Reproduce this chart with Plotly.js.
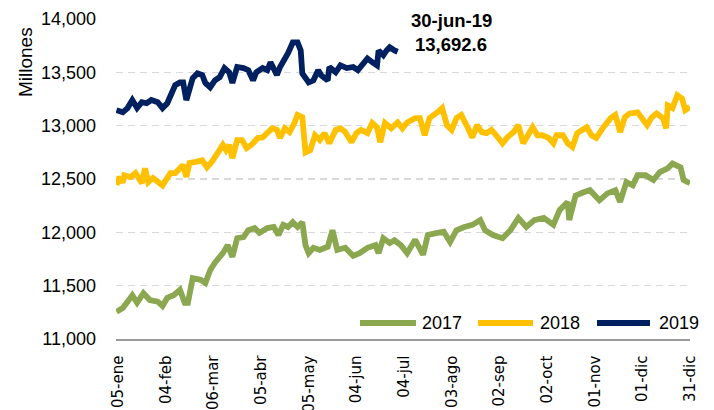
<!DOCTYPE html>
<html>
<head>
<meta charset="utf-8">
<script src="https://cdn.plot.ly/plotly-3.0.1.min.js"></script>
<style>html,body{margin:0;padding:0;background:#fff;}#chart{width:714px;height:410px;}</style>
</head>
<body>
<div id="chart"></div>
<script>
// Día del año (calendario de 365 días) y saldo en millones
const nombresSeries = ["2017", "2018", "2019"];
const colores = ["#8BA74F", "#FFC000", "#002060"];

const dias2017 = [4,8,11,14,17,21,25,30,33,36,40,44,47,49,52,57,60,63,66,69,71,74,77,80,84,87,91,94,99,103,106,109,112,115,118,121,123,125,128,132,137,140,143,148,153,157,162,167,169,172,176,179,183,187,192,197,200,206,210,214,218,223,228,233,236,241,247,252,257,262,267,273,279,283,288,289,293,298,302,308,313,318,321,325,329,332,337,342,346,351,354,359,361,365];
const valores2017 = [11255,11290,11350,11410,11340,11430,11365,11350,11310,11385,11410,11460,11340,11340,11570,11555,11525,11645,11715,11760,11805,11880,11770,11945,11955,12020,12040,11995,12040,12050,11975,12070,12050,12095,12050,12095,11880,11805,11855,11835,11865,12020,11835,11855,11780,11805,11855,11880,11805,11945,11900,11925,11880,11805,11930,11790,11975,11995,12005,11910,12020,12050,12070,12115,12020,11975,11945,12020,12135,12050,12115,12135,12070,12210,12285,12115,12345,12375,12395,12300,12365,12395,12285,12470,12440,12535,12535,12490,12565,12600,12645,12610,12490,12460];

const dias2018 = [4,6,8,9,13,16,18,20,22,24,27,30,33,36,38,41,44,46,48,50,54,58,61,64,68,71,73,75,77,80,83,86,89,93,96,99,102,105,107,110,113,116,118,121,123,126,129,132,135,138,142,145,148,152,155,158,162,165,168,170,173,177,181,184,187,192,195,198,201,206,209,212,215,218,221,225,228,231,234,237,240,243,247,250,254,257,260,263,266,269,272,276,279,281,285,288,291,294,297,300,303,306,310,315,318,321,324,327,332,335,338,341,344,348,350,351,354,357,360,362,364,365];
const valores2018 = [12445,12520,12465,12535,12518,12555,12510,12460,12600,12470,12510,12470,12440,12510,12555,12555,12610,12630,12520,12650,12660,12675,12610,12660,12750,12820,12770,12820,12695,12865,12865,12790,12820,12885,12890,12940,12975,12960,12885,12975,12940,13025,13100,13080,12750,12770,12910,12865,12930,12835,12960,12975,12940,12845,12930,12960,12930,13025,12985,12845,13025,12975,13030,12975,13030,13070,13070,12910,13070,13125,13165,13005,12960,13070,13100,12985,12890,13005,12940,12930,12960,12910,12835,12890,12940,13005,12835,12910,12985,12910,12910,12885,12835,12910,12910,12835,12800,12930,12960,12985,12910,12885,12975,13070,13100,12940,13080,13115,13125,13070,13005,13080,13115,13070,12975,13190,13165,13285,13255,13145,13165,13175];

const dias2019 = [4,8,11,14,17,20,23,26,30,33,36,39,41,44,46,48,52,55,58,60,63,66,69,72,75,77,80,84,87,90,92,96,99,101,103,105,107,109,112,115,118,120,121,125,128,131,133,137,138,142,145,149,153,156,159,162,165,168,169,172,174,176,179,181];
const valores2019 = [13145,13125,13165,13240,13165,13220,13210,13240,13220,13165,13210,13305,13380,13405,13405,13240,13445,13490,13475,13400,13360,13425,13455,13540,13500,13400,13550,13540,13520,13425,13500,13540,13520,13595,13540,13475,13550,13595,13680,13780,13780,13705,13490,13405,13425,13520,13470,13425,13550,13500,13565,13540,13550,13520,13585,13630,13595,13565,13705,13660,13705,13735,13705,13692.6];

const tickDias = [5,35,65,95,125,155,185,215,245,275,305,335,365];
const tickEtiquetas = ["05-ene","04-feb","06-mar","05-abr","05-may","04-jun","04-jul","03-ago","02-sep","02-oct","01-nov","01-dic","31-dic"];
const tickValoresY = [11000,11500,12000,12500,13000,13500,14000];
const etiquetaFecha = "30-jun-19";

const SANS = '"Liberation Sans", Arial, sans-serif';
const REG = '"DejaVu Sans", "Liberation Sans", Arial, sans-serif';

const xs = [dias2017, dias2018, dias2019];
const ys = [valores2017, valores2018, valores2019];
const traces = xs.map((x, i) => ({
  type: 'scatter', mode: 'lines', name: nombresSeries[i],
  x: x, y: ys[i],
  line: {color: colores[i], width: 5.8},
  showlegend: false, hoverinfo: 'skip'
}));

// legend samples (paper coords)
const legX0 = [0.4251, 0.6307, 0.838];
const legX1 = [0.5226, 0.7265, 0.9303];
const legTx = [0.5296, 0.7352, 0.9425];
const legY = 0.05;
const shapes = nombresSeries.map((n, i) => ({
  type: 'line', xref: 'paper', yref: 'paper',
  x0: legX0[i], x1: legX1[i], y0: legY, y1: legY,
  line: {color: colores[i], width: 6}
}));
const annotations = nombresSeries.map((n, i) => ({
  xref: 'paper', yref: 'paper', x: legTx[i], y: legY,
  xanchor: 'left', yanchor: 'middle', showarrow: false,
  text: n, font: {family: SANS, size: 18, color: '#000'}
}));
const lastX = dias2019[dias2019.length - 1];
const lastY = valores2019[valores2019.length - 1];
annotations.push({
  x: lastX, y: lastY, xref: 'x', yref: 'y', showarrow: false,
  xanchor: 'center', yanchor: 'middle', xshift: 54, yshift: 31,
  text: '<b>' + etiquetaFecha + '</b>', font: {family: SANS, size: 18.5, color: '#000'}
});
annotations.push({
  x: lastX, y: lastY, xref: 'x', yref: 'y', showarrow: false,
  xanchor: 'center', yanchor: 'middle', xshift: 53, yshift: 7.5,
  text: '<b>' + lastY.toLocaleString('en-US', {minimumFractionDigits: 1, maximumFractionDigits: 1}) + '</b>',
  font: {family: SANS, size: 18.5, color: '#000'}
});
annotations.push({
  xref: 'paper', yref: 'paper', x: -0.1585, y: 0.8656,
  xanchor: 'center', yanchor: 'middle', showarrow: false, textangle: -90,
  text: 'Millones', font: {family: SANS, size: 19, color: '#000'}
});

const layout = {
  width: 714, height: 410,
  margin: {l: 116, r: 24, t: 19, b: 71, pad: 0},
  paper_bgcolor: '#fff', plot_bgcolor: '#fff',
  showlegend: false,
  xaxis: {
    type: 'linear', range: [3.74, 365], fixedrange: true,
    tickmode: 'array', tickvals: tickDias, ticktext: tickEtiquetas, tickangle: -90,
    ticks: '', showgrid: false, zeroline: false,
    showline: true, linecolor: '#9a9a9a', linewidth: 1.5,
    tickfont: {family: REG, size: 15, color: '#000'},
    ticklabelstandoff: 9
  },
  yaxis: {
    range: [11000, 14000], fixedrange: true,
    tickmode: 'array', tickvals: tickValoresY, tickformat: ',',
    ticks: '', showline: false, zeroline: false,
    showgrid: true, gridcolor: '#D9D9D9', gridwidth: 1.5, griddash: '7px,5px',
    tickfont: {family: SANS, size: 18, color: '#000'},
    ticklabelstandoff: 19
  },
  shapes: shapes,
  annotations: annotations
};

Plotly.newPlot('chart', traces, layout, {staticPlot: true, displayModeBar: false});
</script>
</body>
</html>
